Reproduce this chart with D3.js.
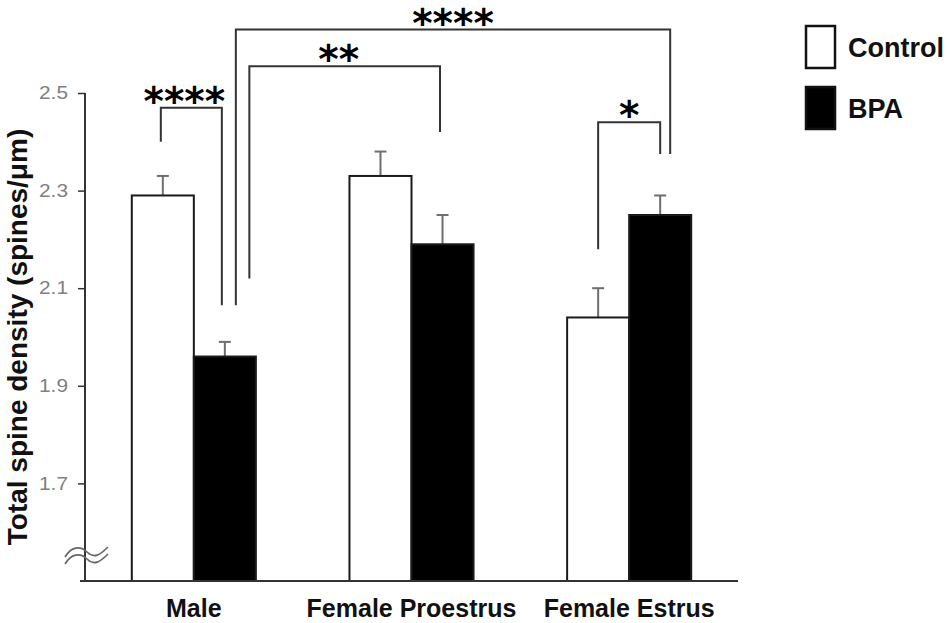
<!DOCTYPE html>
<html>
<head>
<meta charset="utf-8">
<script src="https://cdn.jsdelivr.net/npm/d3@7"></script>
<style>
  body { margin: 0; background: #fff; }
  svg { display: block; font-family: "Liberation Sans", Arial, sans-serif; }
</style>
</head>
<body>
<svg width="950" height="623"></svg>
<script>
const groups = ["Male", "Female Proestrus", "Female Estrus"];
const seriesNames = ["Control", "BPA"];
const controlMeans = [2.29, 2.33, 2.04];
const controlSEM = [0.04, 0.05, 0.06];
const bpaMeans = [1.96, 2.19, 2.25];
const bpaSEM = [0.03, 0.06, 0.04];
const yTicks = [1.7, 1.9, 2.1, 2.3, 2.5];

// significance brackets: [group, series] of the left and right bar
const sigLabels = ["****", "****", "**", "*"];
const sigFrom = [[0, 0], [0, 1], [0, 1], [2, 0]];
const sigTo = [[0, 1], [2, 1], [1, 1], [2, 1]];
const sigTop = [2.47, 2.63, 2.555, 2.44];
const sigLegLeft = [2.40, 2.065, 2.12, 2.18];
const sigLegRight = [2.065, 2.375, 2.42, 2.375];

// px nudges so the legs of the brackets don't overlap
const legShift = [[-2, -3], [11, 10], [24.5, -2.5], [0, 0]];
const starShift = [-7, 0, -6, 0];

const svg = d3.select("svg");

const x = d3.scaleBand()
  .domain(groups)
  .range([85, 738])
  .paddingInner(0.43)
  .paddingOuter(0.215);

const xSub = d3.scaleBand()
  .domain(seriesNames)
  .range([0, x.bandwidth()]);

const y = d3.scaleLinear()
  .domain([1.5, 2.5])
  .range([581, 93]);

const rows = [];
groups.forEach((g, i) => {
  rows.push({group: g, series: "Control", mean: controlMeans[i], sem: controlSEM[i]});
  rows.push({group: g, series: "BPA", mean: bpaMeans[i], sem: bpaSEM[i]});
});

const fillOf = s => s === "Control" ? "#fff" : "#000";
const barCenter = (gi, si) => x(groups[gi]) + xSub(seriesNames[si]) + xSub.bandwidth() / 2;

// error bars (upper half only), drawn under the bars
const err = svg.append("g")
  .attr("stroke", "#6e6e6e")
  .attr("stroke-width", 2);

err.selectAll("line.stem")
  .data(rows)
  .join("line")
  .attr("x1", d => x(d.group) + xSub(d.series) + xSub.bandwidth() / 2)
  .attr("x2", d => x(d.group) + xSub(d.series) + xSub.bandwidth() / 2)
  .attr("y1", d => y(d.mean))
  .attr("y2", d => y(d.mean + d.sem));

err.selectAll("line.cap")
  .data(rows)
  .join("line")
  .attr("x1", d => x(d.group) + xSub(d.series) + xSub.bandwidth() / 2 - 6)
  .attr("x2", d => x(d.group) + xSub(d.series) + xSub.bandwidth() / 2 + 6)
  .attr("y1", d => y(d.mean + d.sem))
  .attr("y2", d => y(d.mean + d.sem));

// bars
svg.append("g")
  .selectAll("rect")
  .data(rows)
  .join("rect")
  .attr("x", d => x(d.group) + xSub(d.series))
  .attr("y", d => y(d.mean))
  .attr("width", xSub.bandwidth())
  .attr("height", d => y(1.5) - y(d.mean))
  .attr("fill", d => fillOf(d.series))
  .attr("stroke", "#1a1a1a")
  .attr("stroke-width", 2);

// y axis
const yAxis = svg.append("g")
  .attr("transform", "translate(85,0)")
  .call(d3.axisLeft(y).tickValues(yTicks).tickSize(7).tickPadding(10).tickFormat(d3.format(".1f")));
yAxis.select(".domain")
  .attr("d", "M0," + y(2.5) + "V" + y(1.5))
  .attr("stroke", "#333")
  .attr("stroke-width", 2);
yAxis.selectAll(".tick line").attr("stroke", "#333").attr("stroke-width", 1.5);
yAxis.selectAll(".tick text")
  .attr("fill", "#808080")
  .attr("font-size", 18)
  .attr("textLength", 29)
  .attr("lengthAdjust", "spacingAndGlyphs")
  .attr("font-family", "'Liberation Sans', Arial, sans-serif");

// x axis
const xAxis = svg.append("g")
  .attr("transform", "translate(0," + y(1.5) + ")")
  .call(d3.axisBottom(x).tickSize(0).tickPadding(18));
xAxis.select(".domain")
  .attr("d", "M80,0H738")
  .attr("stroke", "#333")
  .attr("stroke-width", 2);
xAxis.selectAll(".tick text")
  .attr("fill", "#111")
  .attr("font-size", 25)
  .attr("font-weight", "bold")
  .attr("font-family", "'Liberation Sans', Arial, sans-serif");

// axis break mark
const brk = svg.append("g")
  .attr("fill", "none")
  .attr("stroke", "#666")
  .attr("stroke-width", 1.6);
[0, 7].forEach(dy => {
  const yb = y(1.5) - 24 + dy;
  brk.append("path")
    .attr("d", `M65,${yb} C71,${yb - 10} 80,${yb - 12} 87,${yb - 5} S100,${yb - 2} 108,${yb - 10}`);
});

// y title
svg.append("text")
  .attr("transform", "translate(27," + (y(1.5) + y(2.5)) / 2 + ") rotate(-90)")
  .attr("text-anchor", "middle")
  .attr("fill", "#111")
  .style("font-size", "28px")
  .style("font-weight", "bold")
  .text("Total spine density (spines/\u03bcm)");

// significance brackets
const sig = svg.append("g");
sigLabels.forEach((lab, i) => {
  const xl = barCenter(sigFrom[i][0], sigFrom[i][1]) + legShift[i][0];
  const xr = barCenter(sigTo[i][0], sigTo[i][1]) + legShift[i][1];
  const yt = y(sigTop[i]);
  sig.append("path")
    .attr("d", `M${xl},${y(sigLegLeft[i])}V${yt}H${xr}V${y(sigLegRight[i])}`)
    .attr("fill", "none")
    .attr("stroke", "#333")
    .attr("stroke-width", 2);
  sig.append("text")
    .attr("x", (xl + xr) / 2 + starShift[i])
    .attr("y", yt - 15 + 22)
    .attr("text-anchor", "middle")
    .attr("fill", "#000")
    .style("font-family", "'DejaVu Sans', sans-serif")
    .style("font-weight", "bold")
    .style("font-size", "39px")
    .text(lab);
});

// legend
const legend = svg.append("g")
  .selectAll("g")
  .data(seriesNames)
  .join("g")
  .attr("transform", (d, i) => "translate(806," + (26 + i * 61) + ")");
legend.append("rect")
  .attr("width", 29)
  .attr("height", 42)
  .attr("fill", d => fillOf(d))
  .attr("stroke", "#111")
  .attr("stroke-width", 2.5);
legend.append("text")
  .attr("x", 42)
  .attr("y", 31)
  .attr("fill", "#111")
  .style("font-size", "27px")
  .style("font-weight", "bold")
  .text(d => d);
</script>
</body>
</html>
